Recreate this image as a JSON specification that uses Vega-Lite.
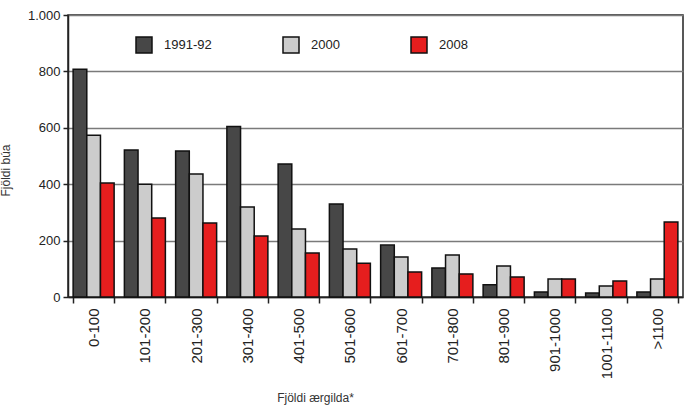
{
  "$schema": "https://vega.github.io/schema/vega-lite/v6.json",
  "width": 615,
  "height": 282,
  "autosize": "none",
  "padding": {"left": 68, "top": 15, "right": 5, "bottom": 117},
  "background": "white",
  "config": {
    "font": "Liberation Sans",
    "view": {"stroke": "#222222", "strokeWidth": 1.5}
  },
  "data": {
    "values": [
      {"flokkur": "0-100", "ar": "1991-92", "fjoldi": 808},
      {"flokkur": "0-100", "ar": "2000", "fjoldi": 574},
      {"flokkur": "0-100", "ar": "2008", "fjoldi": 404},
      {"flokkur": "101-200", "ar": "1991-92", "fjoldi": 521},
      {"flokkur": "101-200", "ar": "2000", "fjoldi": 400},
      {"flokkur": "101-200", "ar": "2008", "fjoldi": 280},
      {"flokkur": "201-300", "ar": "1991-92", "fjoldi": 518},
      {"flokkur": "201-300", "ar": "2000", "fjoldi": 436},
      {"flokkur": "201-300", "ar": "2008", "fjoldi": 262},
      {"flokkur": "301-400", "ar": "1991-92", "fjoldi": 605},
      {"flokkur": "301-400", "ar": "2000", "fjoldi": 319},
      {"flokkur": "301-400", "ar": "2008", "fjoldi": 216},
      {"flokkur": "401-500", "ar": "1991-92", "fjoldi": 472},
      {"flokkur": "401-500", "ar": "2000", "fjoldi": 241},
      {"flokkur": "401-500", "ar": "2008", "fjoldi": 156},
      {"flokkur": "501-600", "ar": "1991-92", "fjoldi": 330},
      {"flokkur": "501-600", "ar": "2000", "fjoldi": 170},
      {"flokkur": "501-600", "ar": "2008", "fjoldi": 120},
      {"flokkur": "601-700", "ar": "1991-92", "fjoldi": 184},
      {"flokkur": "601-700", "ar": "2000", "fjoldi": 142},
      {"flokkur": "601-700", "ar": "2008", "fjoldi": 89},
      {"flokkur": "701-800", "ar": "1991-92", "fjoldi": 103},
      {"flokkur": "701-800", "ar": "2000", "fjoldi": 149},
      {"flokkur": "701-800", "ar": "2008", "fjoldi": 82},
      {"flokkur": "801-900", "ar": "1991-92", "fjoldi": 43},
      {"flokkur": "801-900", "ar": "2000", "fjoldi": 110},
      {"flokkur": "801-900", "ar": "2008", "fjoldi": 71},
      {"flokkur": "901-1000", "ar": "1991-92", "fjoldi": 18},
      {"flokkur": "901-1000", "ar": "2000", "fjoldi": 64},
      {"flokkur": "901-1000", "ar": "2008", "fjoldi": 64},
      {"flokkur": "1001-1100", "ar": "1991-92", "fjoldi": 14},
      {"flokkur": "1001-1100", "ar": "2000", "fjoldi": 39},
      {"flokkur": "1001-1100", "ar": "2008", "fjoldi": 57},
      {"flokkur": ">1100", "ar": "1991-92", "fjoldi": 18},
      {"flokkur": ">1100", "ar": "2000", "fjoldi": 64},
      {"flokkur": ">1100", "ar": "2008", "fjoldi": 266}
    ]
  },
  "mark": {"type": "bar", "stroke": "#111111", "strokeWidth": 1.5},
  "encoding": {
    "x": {
      "field": "flokkur",
      "type": "nominal",
      "sort": ["0-100","101-200","201-300","301-400","401-500","501-600","601-700","701-800","801-900","901-1000","1001-1100",">1100"],
      "scale": {"paddingInner": 0.2, "paddingOuter": 0.1},
      "axis": {
        "title": "Fjöldi ærgilda*",
        "titleFontSize": 12,
        "titleFontWeight": "normal",
        "titleColor": "#333333",
        "titleX": 247,
        "titleY": 95,
        "titleAnchor": "middle",
        "titleBaseline": "top",
        "labelAngle": -90,
        "labelFontSize": 15,
        "labelColor": "#222222",
        "labelPadding": 5,
        "labelLimit": 200,
        "tickBand": "extent",
        "tickColor": "#222222",
        "tickSize": 6,
        "tickWidth": 1.5,
        "domainColor": "#222222",
        "domainWidth": 1.5
      }
    },
    "xOffset": {
      "field": "ar",
      "type": "nominal",
      "sort": ["1991-92","2000","2008"],
      "scale": {"paddingInner": 0, "paddingOuter": 0}
    },
    "y": {
      "field": "fjoldi",
      "type": "quantitative",
      "scale": {"domain": [0, 1000], "nice": false},
      "axis": {
        "title": "Fjöldi búa",
        "titleFontSize": 12,
        "titleFontWeight": "normal",
        "titleColor": "#333333",
        "titleX": -56,
        "titleY": 155,
        "titleAnchor": "middle",
        "values": [0, 200, 400, 600, 800, 1000],
        "labelExpr": "datum.value == 1000 ? '1.000' : datum.label",
        "labelFontSize": 13,
        "labelColor": "#222222",
        "labelPadding": 3,
        "tickColor": "#222222",
        "tickSize": 5,
        "tickWidth": 1.5,
        "grid": true,
        "gridColor": "#7a7a7a",
        "gridWidth": 1.5,
        "domainColor": "#222222",
        "domainWidth": 1.5
      }
    },
    "color": {
      "field": "ar",
      "type": "nominal",
      "sort": ["1991-92","2000","2008"],
      "scale": {"domain": ["1991-92","2000","2008"], "range": ["#474747","#cccccc","#e61e1e"]},
      "legend": {
        "title": null,
        "orient": "none",
        "legendX": 67,
        "legendY": 21,
        "direction": "horizontal",
        "columns": 3,
        "columnPadding": 68,
        "padding": 0,
        "symbolType": "square",
        "symbolSize": 256,
        "symbolStrokeColor": "#111111",
        "symbolStrokeWidth": 1.5,
        "labelFontSize": 13,
        "labelColor": "#222222",
        "labelOffset": 11
      }
    }
  }
}
